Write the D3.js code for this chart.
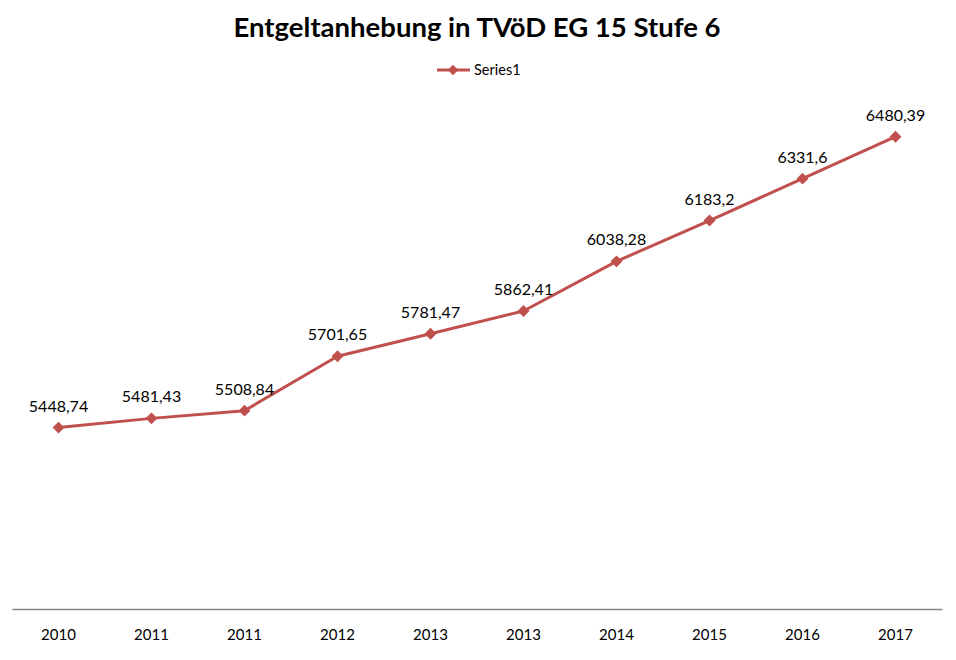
<!DOCTYPE html>
<html><head><meta charset="utf-8">
<script src="https://cdn.jsdelivr.net/npm/d3@7"></script>
<style>body{margin:0;background:#fff}svg{display:block}text{font-family:Lato,"Open Sans",sans-serif}</style>
</head><body>
<svg id="c" width="956" height="660"></svg>
<script>
const title = "Entgeltanhebung in TVöD EG 15 Stufe 6";
const seriesName = "Series1";
const categories = ["2010","2011","2011","2012","2013","2013","2014","2015","2016","2017"];
const values = [5448.74,5481.43,5508.84,5701.65,5781.47,5862.41,6038.28,6183.2,6331.6,6480.39];
const labels = ["5448,74","5481,43","5508,84","5701,65","5781,47","5862,41","6038,28","6183,2","6331,6","6480,39"];
const yDomain = [4800, 6600];

const svg = d3.select("#c");
const color = "#C0504D";
const x = d3.scaleBand().domain(d3.range(categories.length)).range([12, 942]);
const y = d3.scaleLinear().domain(yDomain).range([610.5, 103]);

svg.append("text").attr("x", 477).attr("y", 37).attr("text-anchor","middle")
  .attr("font-size", 27.5).attr("font-weight","bold").attr("fill","#000").text(title);

// legend
const lg = svg.append("g");
lg.append("line").attr("x1",437).attr("x2",470).attr("y1",70).attr("y2",70).attr("stroke",color).attr("stroke-width",3);
lg.append("path").attr("d", d3.symbol(d3.symbolDiamond2, 70)()).attr("transform","translate(453,70)").attr("fill",color);
lg.append("text").attr("x",474).attr("y",75).attr("font-size",14.5).attr("fill","#000").text(seriesName);

// axis
const ax = svg.append("g").attr("transform","translate(0,609)")
  .call(d3.axisBottom(x).tickSize(0).tickPadding(20).tickFormat(i => categories[i]));
ax.select(".domain").attr("stroke","#868686").attr("stroke-width",1.3);
ax.selectAll("text").attr("font-size",15).attr("fill","#000").style("font-family","Lato, 'Open Sans', sans-serif");

const cx = i => x(i) + x.bandwidth()/2;
const line = d3.line().x((d,i) => cx(i)).y(d => y(d));
svg.append("path").datum(values).attr("d", line).attr("fill","none").attr("stroke",color).attr("stroke-width",3).attr("stroke-linejoin","round");

svg.selectAll(".m").data(values).enter().append("path")
  .attr("d", d3.symbol(d3.symbolDiamond2, 90)())
  .attr("transform",(d,i)=>`translate(${cx(i)},${y(d)})`).attr("fill",color);

svg.selectAll(".l").data(values).enter().append("text")
  .attr("x",(d,i)=>cx(i)).attr("y",d=>y(d)-16).attr("text-anchor","middle")
  .attr("font-size",16).attr("fill","#000").text((d,i)=>labels[i]);
</script>
</body></html>
